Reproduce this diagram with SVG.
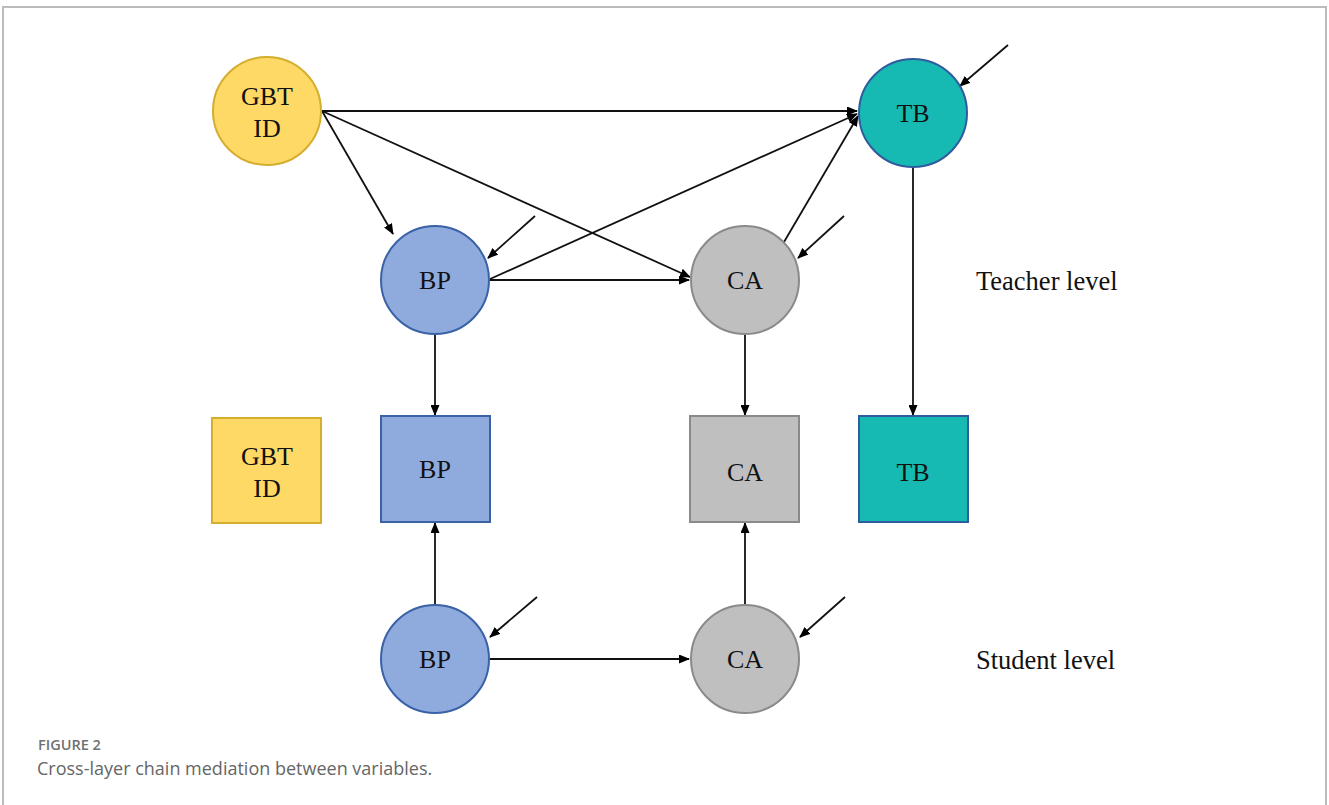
<svg xmlns="http://www.w3.org/2000/svg" width="1329" height="805" viewBox="0 0 1329 805">
<defs>
<marker id="ah" markerWidth="11" markerHeight="9" refX="10" refY="4.5" orient="auto" markerUnits="userSpaceOnUse">
<path d="M0,0 L11,4.5 L0,9 Z" fill="#000"/>
</marker>
<style>
.lbl{font-family:"Liberation Serif","Times New Roman",serif;font-size:26px;fill:#111;text-anchor:middle;dominant-baseline:central}
.lvl{font-family:"Liberation Serif","Times New Roman",serif;font-size:26.5px;fill:#111}
.y{fill:#FFD966;stroke:#D4AE2E;stroke-width:2}
.b{fill:#8FAADC;stroke:#3A62A7;stroke-width:2}
.g{fill:#BFBFBF;stroke:#8A8A8A;stroke-width:2}
.t{fill:#16BAB3;stroke:#2F5C9E;stroke-width:2}
.c line{stroke:#111;stroke-width:1.8;marker-end:url(#ah)}
.cap1{font-family:"Open Sans","Noto Sans",sans-serif;font-size:14.5px;font-weight:600;fill:#707070}
.cap2{font-family:"Open Sans","Noto Sans",sans-serif;font-size:18px;fill:#666}
</style>
</defs>
<rect width="1329" height="805" fill="#fff"/>
<path d="M3,810 L3,7 L1326,7 L1326,810" fill="none" stroke="#bcbcbc" stroke-width="2"/>

<g class="c" id="connectors">
<line x1="322" y1="111" x2="857" y2="111"/>
<line x1="322" y1="111" x2="393" y2="234"/>
<line x1="322" y1="111" x2="690" y2="277"/>
<line x1="490" y1="280" x2="689" y2="280"/>
<line x1="490" y1="279" x2="857" y2="114"/>
<line x1="784" y1="242" x2="858" y2="116"/>
<line x1="535" y1="216" x2="488" y2="258"/>
<line x1="844" y1="216" x2="798" y2="258"/>
<line x1="1008" y1="45" x2="960" y2="86"/>
<line x1="435" y1="334" x2="435" y2="415"/>
<line x1="745" y1="334" x2="745" y2="415"/>
<line x1="913" y1="167" x2="913" y2="415"/>
<line x1="435" y1="605" x2="435" y2="523"/>
<line x1="745" y1="605" x2="745" y2="523"/>
<line x1="490" y1="659" x2="689" y2="659"/>
<line x1="537" y1="597" x2="490" y2="637"/>
<line x1="845" y1="597" x2="800" y2="637"/>
</g>

<g id="gbt-circle"><circle class="y" cx="267" cy="111" r="54"/><text class="lbl" x="267" y="96">GBT</text><text class="lbl" x="267" y="128">ID</text></g>
<g id="tb-circle"><circle class="t" cx="913" cy="113" r="54"/><text class="lbl" x="913" y="113">TB</text></g>
<g id="bp-teacher"><circle class="b" cx="435" cy="280" r="54"/><text class="lbl" x="435" y="280">BP</text></g>
<g id="ca-teacher"><circle class="g" cx="745" cy="280" r="54"/><text class="lbl" x="745" y="280">CA</text></g>

<g id="gbt-square"><rect class="y" x="212" y="418" width="109" height="105"/><text class="lbl" x="267" y="456">GBT</text><text class="lbl" x="267" y="488">ID</text></g>
<g id="bp-square"><rect class="b" x="381" y="416" width="109" height="106"/><text class="lbl" x="435" y="469">BP</text></g>
<g id="ca-square"><rect class="g" x="690" y="416" width="109" height="106"/><text class="lbl" x="745" y="472">CA</text></g>
<g id="tb-square"><rect class="t" x="859" y="416" width="109" height="106"/><text class="lbl" x="913" y="472">TB</text></g>

<g id="bp-student"><circle class="b" cx="435" cy="659" r="54"/><text class="lbl" x="435" y="659">BP</text></g>
<g id="ca-student"><circle class="g" cx="745" cy="659" r="54"/><text class="lbl" x="745" y="659">CA</text></g>

<g id="levels">
<text class="lvl" x="976" y="290">Teacher level</text>
<text class="lvl" x="976" y="669">Student level</text>
</g>
<g id="caption">
<text class="cap1" x="38" y="750">FIGURE 2</text>
<text class="cap2" x="37" y="775">Cross-layer chain mediation between variables.</text>
</g>
</svg>
